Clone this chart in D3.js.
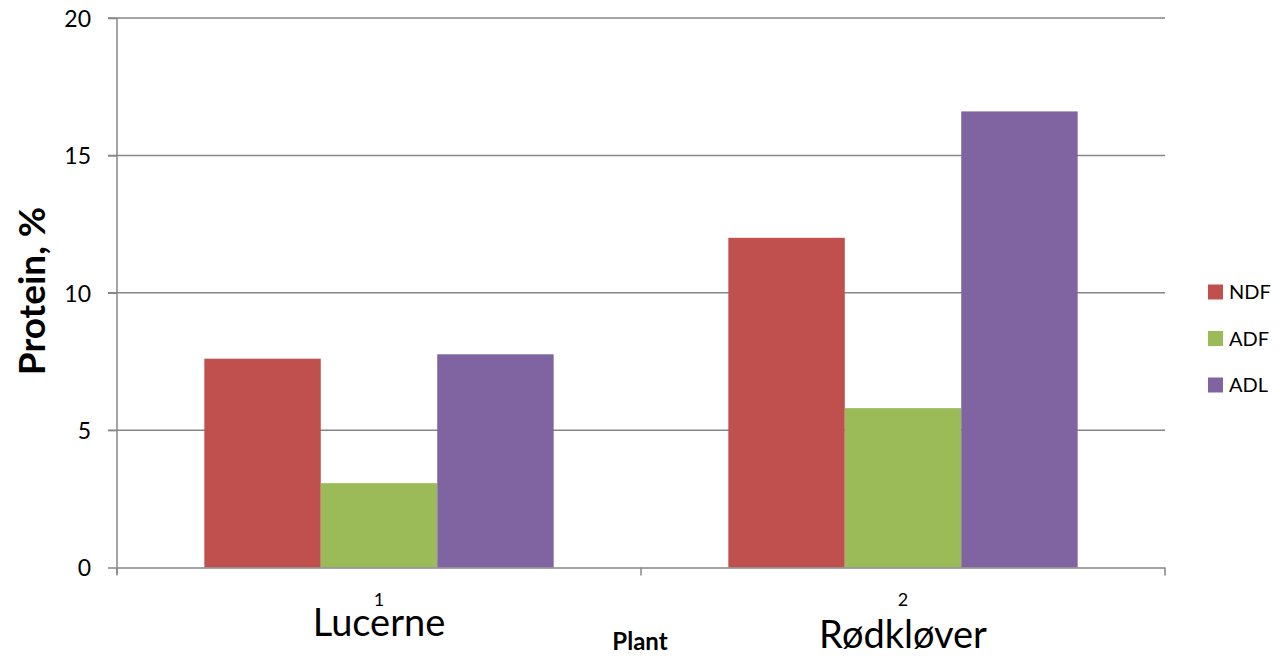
<!DOCTYPE html>
<html><head><meta charset="utf-8">
<script src="https://cdn.jsdelivr.net/npm/d3@7"></script>
<style>body{margin:0;background:#fff;} text{font-family:Lato,"Open Sans",sans-serif;fill:#000;}</style>
</head><body>
<svg id="c" width="1280" height="656"></svg>
<script>
const categories = ["Lucerne", "Rødkløver"];
const categoryNumbers = ["1", "2"];
const series = ["NDF", "ADF", "ADL"];
const colors = ["#C0504D", "#9BBB59", "#8064A2"];
const NDF = [7.6, 12.0];
const ADF = [3.07, 5.8];
const ADL = [7.76, 16.6];
const yTicks = [0, 5, 10, 15, 20];
const yTitle = "Protein, %";
const xTitle = "Plant";

const values = {NDF, ADF, ADL};
const svg = d3.select("#c");
const L = 117, R = 1165, T = 18, B = 567.5;
const axisColor = "#868686";

const y = d3.scaleLinear().domain([0, 20]).range([B, T]);
const x0 = d3.scaleBand().domain(categories).range([L, R]).paddingInner(1/3).paddingOuter(1/6);
const x1 = d3.scaleBand().domain(series).range([0, x0.bandwidth()]);
const color = d3.scaleOrdinal().domain(series).range(colors);

// gridlines
svg.append("g").selectAll("line").data(yTicks.filter(d => d > 0)).join("line")
  .attr("x1", L - 9).attr("x2", R).attr("y1", d => y(d)).attr("y2", d => y(d))
  .attr("stroke", axisColor).attr("stroke-width", 1.5);

// y axis
const yAxis = svg.append("g").attr("transform", `translate(${L},0)`)
  .call(d3.axisLeft(y).tickValues(yTicks).tickSize(9).tickPadding(17));
yAxis.select(".domain").attr("stroke", axisColor).attr("stroke-width", 1.5).attr("d", `M0,${T}V${B+6}`);
yAxis.selectAll(".tick line").attr("stroke", axisColor).attr("stroke-width", 1.5);
yAxis.selectAll(".tick text").attr("font-size", 23).attr("font-family", "Lato,sans-serif").attr("fill", "#000").attr("dy", "0.36em");

// bars
const g = svg.append("g");
categories.forEach((c, i) => {
  g.append("g").attr("transform", `translate(${x0(c)},0)`)
    .selectAll("rect").data(series.map(s => ({s, v: values[s][i]}))).join("rect")
    .attr("x", d => x1(d.s)).attr("width", x1.bandwidth())
    .attr("y", d => y(d.v)).attr("height", d => y(0) - y(d.v))
    .attr("fill", d => color(d.s));
});

// x axis
const step = x0.step();
svg.append("line").attr("x1", L).attr("x2", R).attr("y1", B + 0.5).attr("y2", B + 0.5)
  .attr("stroke", axisColor).attr("stroke-width", 1.5);
const edges = [L].concat(categories.map(c => x0(c) + x0.bandwidth() + step * x0.paddingInner() / 2));
edges[edges.length - 1] = R;
svg.append("g").selectAll("line").data(edges).join("line")
  .attr("x1", d => d).attr("x2", d => d).attr("y1", B).attr("y2", B + 8)
  .attr("stroke", axisColor).attr("stroke-width", 1.5);

categories.forEach((c, i) => {
  const cx = x0(c) + x0.bandwidth() / 2;
  svg.append("text").attr("x", cx).attr("y", 606).attr("text-anchor", "middle")
    .attr("font-size", 18).text(categoryNumbers[i]);
  svg.append("text").attr("x", cx).attr("y", i === 0 ? 636 : 648).attr("text-anchor", "middle")
    .attr("font-size", 38).text(c);
});

svg.append("text").attr("x", 640).attr("y", 650).attr("text-anchor", "middle")
  .attr("font-size", 24).attr("font-weight", "bold").text(xTitle);

svg.append("text").attr("transform", "translate(45,291) rotate(-90)").attr("text-anchor", "middle")
  .attr("font-size", 37).attr("font-weight", "bold").text(yTitle);

// legend
const lg = svg.append("g").attr("transform", "translate(1208,0)");
series.forEach((s, i) => {
  const cy = 292 + i * 46.5;
  lg.append("rect").attr("x", 0).attr("y", cy - 7.5).attr("width", 15).attr("height", 15).attr("fill", color(s));
  lg.append("text").attr("x", 21).attr("y", cy).attr("dy", "0.36em").attr("font-size", 20).text(s);
});
</script>
</body></html>
